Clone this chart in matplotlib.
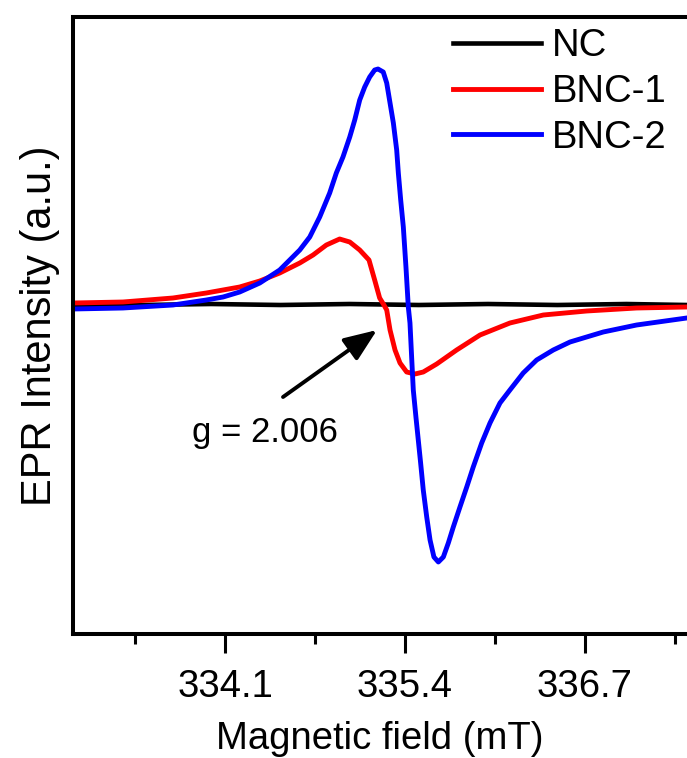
import matplotlib.pyplot as plt
from matplotlib.ticker import FixedLocator

plt.rcParams['font.family'] = ['Liberation Sans', 'DejaVu Sans']

# magnetic field (mT) and intensity (a.u.)
field_nc = [333.00, 333.50, 334.00, 334.50, 335.00, 335.50, 336.00, 336.50, 337.00, 337.44]
nc = [0.00, 0.00, 0.01, 0.00, 0.01, 0.00, 0.01, 0.00, 0.01, 0.00]

field_bnc1 = [333.002, 333.363, 333.724, 333.965, 334.206, 334.351, 334.495, 334.640,
              334.736, 334.832, 334.928, 335.001, 335.073, 335.140, 335.181, 335.217,
              335.248, 335.268, 335.292, 335.328, 335.364, 335.412, 335.472, 335.532,
              335.629, 335.773, 335.942, 336.158, 336.399, 336.712, 337.073, 337.435]
bnc1 = [0.02, 0.03, 0.07, 0.12, 0.18, 0.24, 0.32, 0.42,
        0.50, 0.60, 0.66, 0.63, 0.55, 0.45, 0.25, 0.07,
        0.00, -0.05, -0.25, -0.45, -0.58, -0.67, -0.69, -0.67,
        -0.59, -0.45, -0.30, -0.18, -0.10, -0.06, -0.03, -0.02]

field_bnc2 = [333.002, 333.363, 333.724, 333.965, 334.086, 334.206, 334.351, 334.495,
              334.640, 334.712, 334.784, 334.856, 334.904, 334.952, 335.001, 335.037,
              335.073, 335.109, 335.145, 335.181, 335.205, 335.243, 335.268, 335.292,
              335.316, 335.340, 335.352, 335.369, 335.388, 335.407, 335.424, 335.436,
              335.448, 335.460, 335.479, 335.496, 335.513, 335.532, 335.557, 335.581,
              335.609, 335.641, 335.677, 335.713, 335.749, 335.797, 335.846, 335.893,
              335.954, 336.014, 336.086, 336.158, 336.254, 336.351, 336.471, 336.592,
              336.832, 337.073, 337.435]
bnc2 = [-0.04, -0.03, 0.00, 0.05, 0.08, 0.13, 0.22, 0.35,
        0.55, 0.68, 0.88, 1.12, 1.32, 1.48, 1.68, 1.85,
        2.05, 2.18, 2.28, 2.35, 2.36, 2.33, 2.22, 2.02,
        1.82, 1.55, 1.32, 1.05, 0.78, 0.38, -0.02, -0.18,
        -0.52, -0.85, -1.12, -1.35, -1.58, -1.85, -2.12, -2.35,
        -2.52, -2.57, -2.52, -2.38, -2.22, -2.02, -1.82, -1.62,
        -1.38, -1.18, -0.98, -0.85, -0.68, -0.55, -0.45, -0.37,
        -0.27, -0.20, -0.13]

major_ticks = [334.1, 335.4, 336.7]
minor_ticks = [333.45, 334.75, 336.05, 337.35]

fig = plt.figure(figsize=(6.87, 7.58), dpi=100)
ax = fig.add_axes([73 / 687, 124 / 758, 614 / 687, 617 / 758])

ax.plot(field_nc, nc, color='black', lw=3.3, label='NC')
ax.plot(field_bnc1, bnc1, color='#ff0000', lw=3.5, label='BNC-1')
ax.plot(field_bnc2, bnc2, color='#0000ff', lw=3.5, label='BNC-2')

ax.set_xlim(333.002, 337.437)
ax.set_ylim(-3.29, 2.88)

ax.xaxis.set_major_locator(FixedLocator(major_ticks))
ax.xaxis.set_minor_locator(FixedLocator(minor_ticks))
ax.set_xticklabels([str(t) for t in major_ticks])
ax.set_yticks([])
ax.tick_params(axis='x', which='major', direction='out', length=14, width=2.2,
               labelsize=27.5, pad=11)
ax.tick_params(axis='x', which='minor', direction='out', length=7, width=2.2)

for side in ['left', 'bottom', 'top']:
    ax.spines[side].set_linewidth(2.9)
ax.spines['right'].set_visible(False)

ax.set_xlabel('Magnetic field (mT)', fontsize=27.5, labelpad=12)
ax.set_ylabel('EPR Intensity (a.u.)', fontsize=30, labelpad=9)

ax.legend(loc='upper left', bbox_to_anchor=(453 / 687, 1 - 28 / 758),
          bbox_transform=fig.transFigure, frameon=False, fontsize=27.5,
          handlelength=2.3, handletextpad=0.28, labelspacing=0.26,
          borderpad=0, borderaxespad=0)

ax.annotate('', xy=(335.198, -0.25), xytext=(334.519, -0.92),
            arrowprops=dict(arrowstyle='-|>,head_length=2.0,head_width=0.8',
                            color='black', lw=2.8, shrinkA=0, shrinkB=0))
ax.text(333.862, -1.37, 'g = 2.006', fontsize=25, ha='left', va='baseline')

fig.savefig('out.png', dpi=100)
